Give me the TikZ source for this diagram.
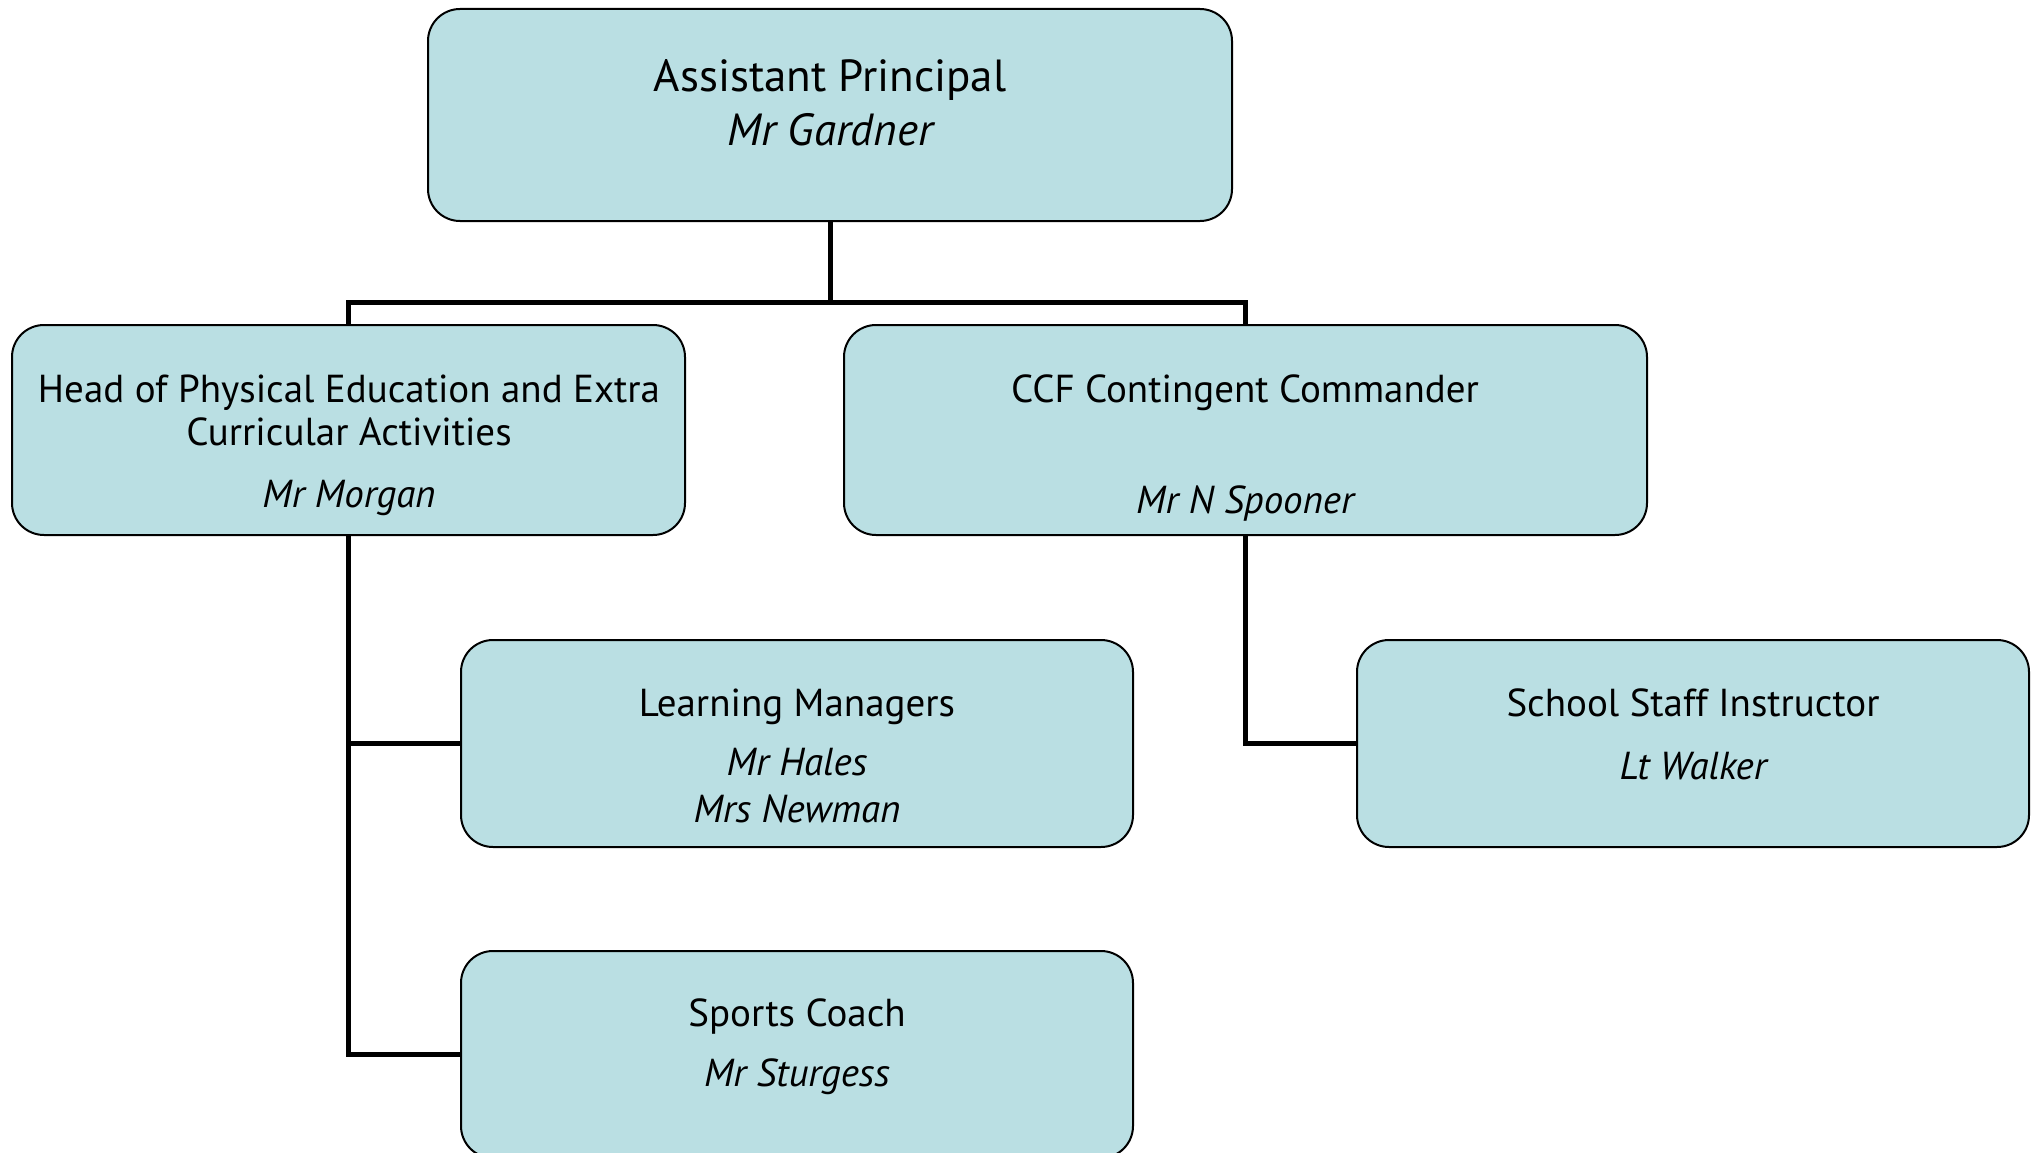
\documentclass[tikz,border=0pt]{standalone}
\usepackage{fontspec}
\setmainfont{PT Sans}
\begin{document}
\begin{tikzpicture}[x=1pt,y=-1pt,
  box/.style={draw=black, line width=2pt, fill=boxfill, rounded corners=32pt, inner sep=0pt},
  conn/.style={draw=black, line width=5pt},
  ttl/.style={font=\fontsize{39}{46}\selectfont, anchor=mid, inner sep=0pt},
  nm/.style={font=\fontsize{39}{46}\selectfont\itshape, anchor=mid, inner sep=0pt},
  bigttl/.style={font=\fontsize{45}{54}\selectfont, anchor=mid, inner sep=0pt},
  bignm/.style={font=\fontsize{45}{54}\selectfont\itshape, anchor=mid, inner sep=0pt}]
\definecolor{boxfill}{HTML}{BADFE3}
\useasboundingbox (0,0) rectangle (2040,1153);
\clip (0,0) rectangle (2040,1153);
% boxes
\node[box, minimum width=804pt, minimum height=212pt] (top) at (830,115) {};
\node[box, minimum width=673pt, minimum height=210pt] (pe) at (348.5,430) {};
\node[box, minimum width=803pt, minimum height=210pt] (ccf) at (1245.5,430) {};
\node[box, minimum width=672pt, minimum height=207pt] (lm) at (797,743.5) {};
\node[box, minimum width=672pt, minimum height=207pt] (ssi) at (1693,743.5) {};
\node[box, minimum width=672pt, minimum height=207pt] (sc) at (797,1054.5) {};
% connectors
\coordinate (bus) at (830,302);
\draw[conn] (top.south) -- (bus);
\draw[conn] (pe.north) |- (bus) -| (ccf.north);
\draw[conn] (pe.south) |- (sc.west);
\draw[conn] (pe.south |- lm.west) -- (lm.west);
\draw[conn] (ccf.south) |- (ssi.west);
% texts
\node[bigttl] (t1) at (830,89) {Assistant Principal};
\node[bignm] (n1) at (830,143) {Mr Gardner};
\node[ttl] (t2a) at (349,400) {Head of Physical Education and Extra};
\node[ttl] (t2b) at (349,443) {Curricular Activities};
\node[nm] (n2) at (349,505) {Mr Morgan};
\node[ttl] (t3) at (1245,400) {CCF Contingent Commander};
\node[nm] (n3) at (1245,511) {Mr N Spooner};
\node[ttl] (t4) at (797,714) {Learning Managers};
\node[nm] (n4a) at (797,773) {Mr Hales};
\node[nm] (n4b) at (797,820) {Mrs Newman};
\node[ttl] (t5) at (1693,714) {School Staff Instructor};
\node[nm] (n5) at (1693,777) {Lt Walker};
\node[ttl] (t6) at (797,1024) {Sports Coach};
\node[nm] (n6) at (797,1084) {Mr Sturgess};
\end{tikzpicture}
\end{document}
